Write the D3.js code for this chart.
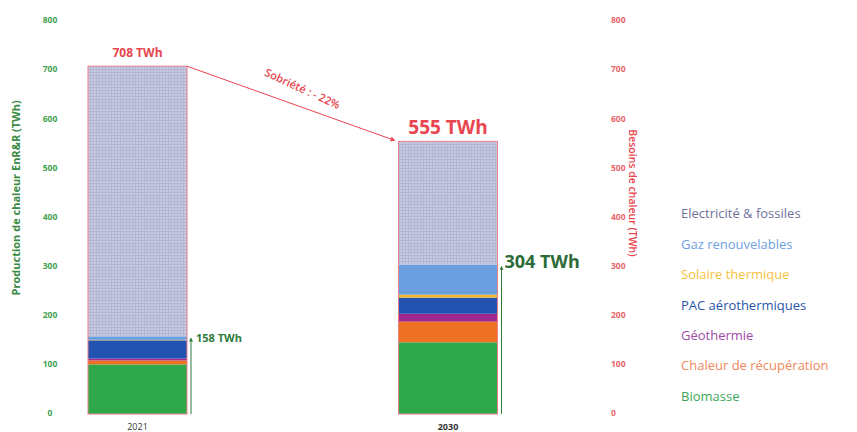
<!DOCTYPE html>
<html>
<head>
<meta charset="utf-8">
<script src="https://cdn.jsdelivr.net/npm/d3@7"></script>
<style>
  body { margin: 0; background: #fff; }
  svg { font-family: "Open Sans", "DejaVu Sans", sans-serif; }
</style>
</head>
<body>
<svg id="chart" width="857" height="432"></svg>
<script>
const years = ["2021", "2030"];
const sources = ["Biomasse", "Chaleur de récupération", "Géothermie", "PAC aérothermiques",
  "Solaire thermique", "Gaz renouvelables", "Electricité & fossiles"];
const biomasse = [101, 146];
const recuperation = [8, 42];
const geothermie = [4, 16];
const pac = [37, 33];
const solaire = [1, 6];
const gaz = [7, 61];
const fossiles = [550, 251];
const totalNeeds = [708, 555];
const totalEnr = [158, 304];
const yTicks = [0, 100, 200, 300, 400, 500, 600, 700, 800];

const colors = {
  "Biomasse": "#2ea84a",
  "Chaleur de récupération": "#f07124",
  "Géothermie": "#a2288e",
  "PAC aérothermiques": "#2253b0",
  "Solaire thermique": "#f2b92e",
  "Gaz renouvelables": "#6a9fe0",
  "Electricité & fossiles": "url(#dots)"
};
const legendColors = {
  "Biomasse": "#3aa65a",
  "Chaleur de récupération": "#f0875a",
  "Géothermie": "#a04aa8",
  "PAC aérothermiques": "#2a55a8",
  "Solaire thermique": "#f4c23c",
  "Gaz renouvelables": "#6f9fe0",
  "Electricité & fossiles": "#6e7199"
};
const red = "#e8454f";
const green = "#2e7a3c";

const svg = d3.select("#chart");

const defs = svg.append("defs");
const pat = defs.append("pattern")
  .attr("id", "dots")
  .attr("width", 3).attr("height", 3)
  .attr("patternUnits", "userSpaceOnUse");
pat.append("rect").attr("width", 3).attr("height", 3).attr("fill", "#c6c9e1");
pat.append("rect").attr("width", 1).attr("height", 3).attr("fill", "#b5b8d5");
pat.append("rect").attr("width", 3).attr("height", 1).attr("fill", "#b5b8d5");

defs.append("marker")
  .attr("id", "redHead").attr("viewBox", "0 0 10 10")
  .attr("refX", 8).attr("refY", 5)
  .attr("markerWidth", 5).attr("markerHeight", 5)
  .attr("orient", "auto")
  .append("path").attr("d", "M0,0L10,5L0,10z").attr("fill", red);
defs.append("marker")
  .attr("id", "greenHead").attr("viewBox", "0 0 10 10")
  .attr("refX", 8).attr("refY", 5)
  .attr("markerWidth", 4).attr("markerHeight", 4)
  .attr("orient", "auto")
  .append("path").attr("d", "M0,0L10,5L0,10z").attr("fill", green);

const y = d3.scaleLinear().domain([0, 800]).range([414, 21]);
const x = d3.scalePoint().domain(years).range([137.5, 448]);
const bw = 99;

const table = years.map((yr, i) => ({
  year: yr,
  "Biomasse": biomasse[i],
  "Chaleur de récupération": recuperation[i],
  "Géothermie": geothermie[i],
  "PAC aérothermiques": pac[i],
  "Solaire thermique": solaire[i],
  "Gaz renouvelables": gaz[i],
  "Electricité & fossiles": fossiles[i]
}));
const stacked = d3.stack().keys(sources)(table);

// left ticks
svg.append("g").selectAll("text")
  .data(yTicks).enter().append("text")
  .attr("x", 50).attr("y", d => y(d))
  .attr("text-anchor", "middle").attr("dominant-baseline", "middle")
  .attr("font-size", 8.5).attr("font-weight", 700)
  .attr("fill", "#43a152")
  .text(d => d);

// right ticks
svg.append("g").selectAll("text")
  .data(yTicks).enter().append("text")
  .attr("x", 611).attr("y", d => y(d))
  .attr("dominant-baseline", "middle")
  .attr("font-size", 8.5).attr("font-weight", 700)
  .attr("fill", "#e8656a")
  .text(d => d);

svg.append("text")
  .attr("transform", `translate(17,${y(440)}) rotate(-90)`)
  .attr("text-anchor", "middle").attr("dominant-baseline", "middle")
  .attr("font-size", 11).attr("font-weight", 700).attr("fill", "#3a8c44")
  .text("Production de chaleur EnR&R (TWh)");

svg.append("text")
  .attr("transform", `translate(632,${y(450)}) rotate(90)`)
  .attr("text-anchor", "middle").attr("dominant-baseline", "middle")
  .attr("font-size", 10.5).attr("font-weight", 600).attr("fill", red)
  .text("Besoins de chaleur (TWh)");

// stacked bars
svg.append("g").selectAll("g")
  .data(stacked).enter().append("g")
  .attr("fill", d => colors[d.key])
  .selectAll("rect")
  .data(d => d).enter().append("rect")
  .attr("x", d => x(d.data.year) - bw / 2)
  .attr("y", d => y(d[1]))
  .attr("width", bw)
  .attr("height", d => y(d[0]) - y(d[1]));

// red outline of heat needs
svg.append("g").selectAll("rect")
  .data(years).enter().append("rect")
  .attr("x", d => x(d) - bw / 2)
  .attr("y", (d, i) => y(totalNeeds[i]))
  .attr("width", bw)
  .attr("height", (d, i) => y(0) - y(totalNeeds[i]))
  .attr("fill", "none")
  .attr("stroke", "#ec8088").attr("stroke-width", 1);

// year labels
svg.append("g").selectAll("text")
  .data(years).enter().append("text")
  .attr("x", d => x(d)).attr("y", 428)
  .attr("text-anchor", "middle").attr("dominant-baseline", "middle")
  .attr("font-size", 9).attr("font-weight", (d, i) => i === 1 ? 700 : 500)
  .attr("fill", "#333")
  .text(d => d);

// needs labels
svg.append("text")
  .attr("x", x(years[0])).attr("y", y(totalNeeds[0]) - 9)
  .attr("text-anchor", "middle")
  .attr("font-size", 12).attr("font-weight", 700).attr("fill", red)
  .text(totalNeeds[0] + " TWh");
svg.append("text")
  .attr("x", x(years[1])).attr("y", y(totalNeeds[1]) - 7)
  .attr("text-anchor", "middle")
  .attr("font-size", 19).attr("font-weight", 700).attr("fill", red)
  .text(totalNeeds[1] + " TWh");

// sobriete arrow
const x0 = x(years[0]) + bw / 2, y0 = y(totalNeeds[0]);
const x1 = x(years[1]) - bw / 2 - 4, y1 = y(totalNeeds[1]) - 1;
svg.append("line")
  .attr("x1", x0).attr("y1", y0).attr("x2", x1).attr("y2", y1)
  .attr("stroke", red).attr("stroke-width", 1)
  .attr("marker-end", "url(#redHead)");
const ang = Math.atan2(y1 - y0, x1 - x0) * 180 / Math.PI;
svg.append("text")
  .attr("transform", `translate(${(x0 + x1) / 2 + 10},${(y0 + y1) / 2 - 11}) rotate(${ang + 5})`)
  .attr("text-anchor", "middle")
  .attr("font-size", 11).attr("font-weight", 600).attr("fill", red)
  .text("Sobriété : - 22%");

// EnR&R arrows
svg.append("g").selectAll("line")
  .data(years).enter().append("line")
  .attr("x1", d => x(d) + bw / 2 + 4).attr("x2", d => x(d) + bw / 2 + 4)
  .attr("y1", y(0))
  .attr("y2", (d, i) => y(totalEnr[i]) + 2)
  .attr("stroke", green).attr("stroke-width", 1)
  .attr("marker-end", "url(#greenHead)");

svg.append("text")
  .attr("x", x(years[0]) + bw / 2 + 9).attr("y", y(totalEnr[0]) + 3)
  .attr("dominant-baseline", "middle")
  .attr("font-size", 11).attr("font-weight", 700).attr("fill", green)
  .text(totalEnr[0] + " TWh");
svg.append("text")
  .attr("x", x(years[1]) + bw / 2 + 7).attr("y", y(totalEnr[1]) - 1)
  .attr("dominant-baseline", "middle")
  .attr("font-size", 18).attr("font-weight", 700).attr("fill", "#2b6b38")
  .text(totalEnr[1] + " TWh");

// legend
const legendOrder = sources.slice().reverse();
svg.append("g").selectAll("text")
  .data(legendOrder).enter().append("text")
  .attr("x", 681)
  .attr("y", (d, i) => 215 + i * 30.4)
  .attr("dominant-baseline", "middle")
  .attr("font-size", 13).attr("font-weight", 500)
  .attr("fill", d => legendColors[d])
  .text(d => d);
</script>
</body>
</html>
